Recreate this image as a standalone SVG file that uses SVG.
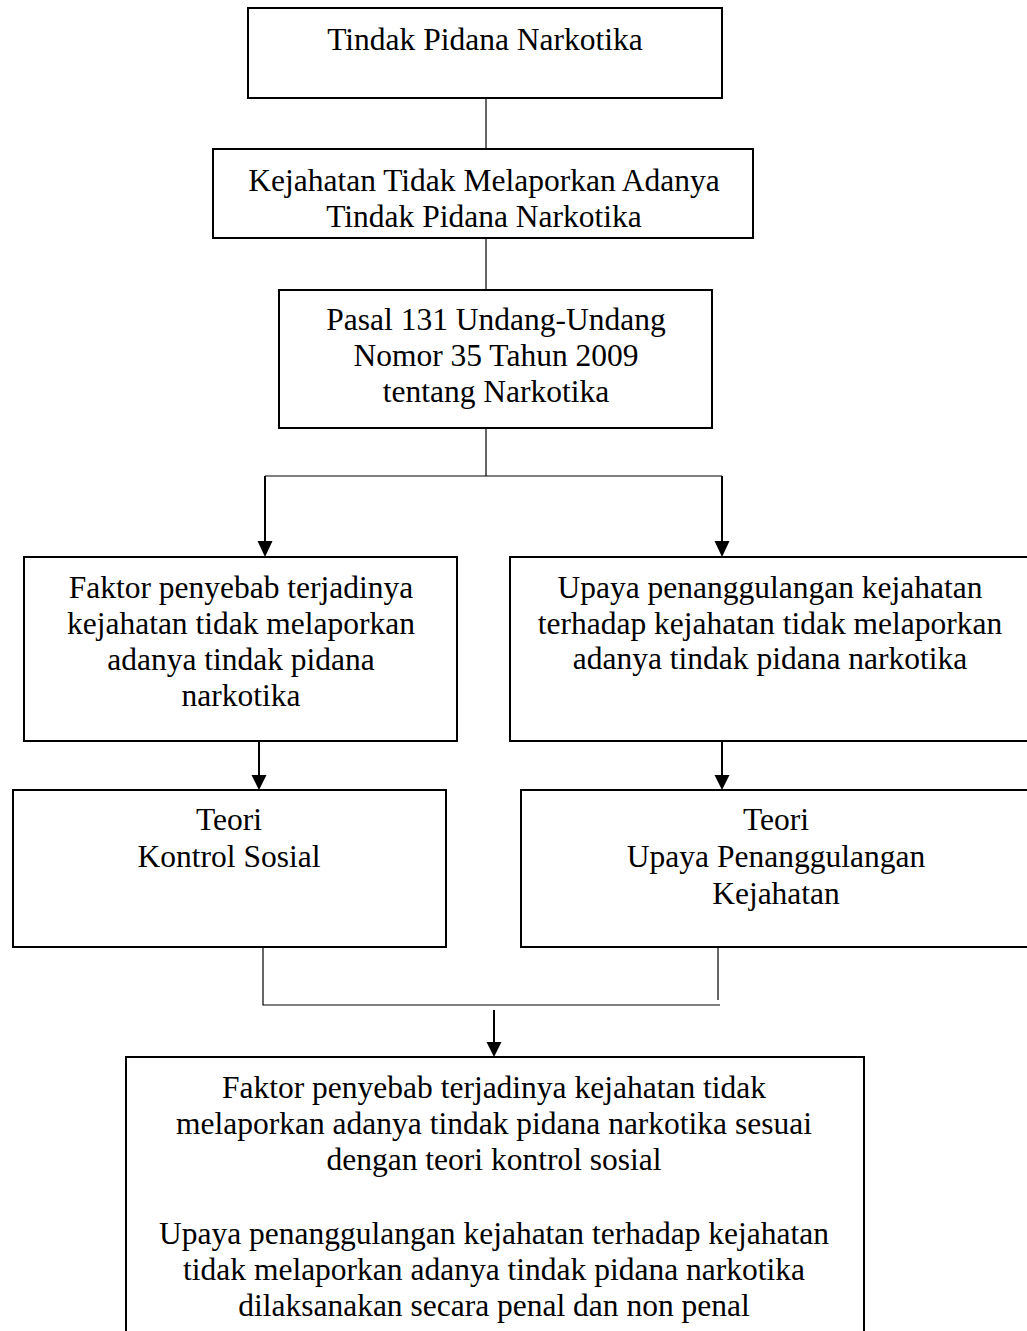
<svg xmlns="http://www.w3.org/2000/svg" width="1027" height="1331" viewBox="0 0 1027 1331">
<style>
  .box { fill: #ffffff; stroke: #000000; stroke-width: 2; }
  .t { font-family: "Liberation Serif", "Times New Roman", serif; font-size: 31.5px; fill: #000000; text-anchor: middle; }
  .thin { fill: none; stroke: #000000; stroke-width: 1.2; }
  .arr { fill: none; stroke: #000000; stroke-width: 2; }
  .head { fill: #000000; stroke: none; }
</style>
<rect width="1027" height="1331" fill="#ffffff"/>
<g id="connectors">
  <line class="thin" x1="486" y1="98" x2="486" y2="149"/>
  <line class="thin" x1="486" y1="238" x2="486" y2="290"/>
  <polyline class="thin" points="486,428 486,476"/>
  <polyline class="thin" points="265,476 722,476"/>
  <line class="arr" x1="265" y1="476" x2="265" y2="544"/>
  <polygon class="head" points="257.5,541 272.5,541 265,557"/>
  <line class="arr" x1="722" y1="476" x2="722" y2="544"/>
  <polygon class="head" points="714.5,541 729.5,541 722,557"/>
  <line class="arr" x1="259" y1="741" x2="259" y2="777"/>
  <polygon class="head" points="251.5,775 266.5,775 259,790"/>
  <line class="arr" x1="722" y1="741" x2="722" y2="777"/>
  <polygon class="head" points="714.5,775 729.5,775 722,790"/>
  <polyline class="thin" points="263,948 263,1005 720,1005"/>
  <line class="thin" x1="718" y1="948" x2="718" y2="1000"/>
  <line class="arr" x1="494" y1="1010" x2="494" y2="1044"/>
  <polygon class="head" points="486.5,1042 501.5,1042 494,1057"/>
</g>
<g id="n1">
  <rect class="box" x="248" y="8" width="474" height="90"/>
  <text class="t" x="485" y="50">Tindak Pidana Narkotika</text>
</g>
<g id="n2">
  <rect class="box" x="213" y="149" width="540" height="89"/>
  <text class="t" x="484" y="191">Kejahatan Tidak Melaporkan Adanya</text>
  <text class="t" x="484" y="227">Tindak Pidana Narkotika</text>
</g>
<g id="n3">
  <rect class="box" x="279" y="290" width="433" height="138"/>
  <text class="t" x="496" y="330">Pasal 131 Undang-Undang</text>
  <text class="t" x="496" y="366">Nomor 35 Tahun 2009</text>
  <text class="t" x="496" y="402">tentang Narkotika</text>
</g>
<g id="n4">
  <rect class="box" x="24" y="557" width="433" height="184"/>
  <text class="t" x="241" y="598">Faktor penyebab terjadinya</text>
  <text class="t" x="241" y="634">kejahatan tidak melaporkan</text>
  <text class="t" x="241" y="670">adanya tindak pidana</text>
  <text class="t" x="241" y="706">narkotika</text>
</g>
<g id="n5">
  <rect class="box" x="510" y="557" width="530" height="184"/>
  <text class="t" x="770" y="598">Upaya penanggulangan kejahatan</text>
  <text class="t" x="770" y="634">terhadap kejahatan tidak melaporkan</text>
  <text class="t" x="770" y="669">adanya tindak pidana narkotika</text>
</g>
<g id="n6">
  <rect class="box" x="13" y="790" width="433" height="157"/>
  <text class="t" x="229" y="830">Teori</text>
  <text class="t" x="229" y="867">Kontrol Sosial</text>
</g>
<g id="n7">
  <rect class="box" x="521" y="790" width="520" height="157"/>
  <text class="t" x="776" y="830">Teori</text>
  <text class="t" x="776" y="867">Upaya Penanggulangan</text>
  <text class="t" x="776" y="904">Kejahatan</text>
</g>
<g id="n8">
  <rect class="box" x="126" y="1057" width="738" height="290"/>
  <text class="t" x="494" y="1098">Faktor penyebab terjadinya kejahatan tidak</text>
  <text class="t" x="494" y="1134">melaporkan adanya tindak pidana narkotika sesuai</text>
  <text class="t" x="494" y="1170">dengan teori kontrol sosial</text>
  <text class="t" x="494" y="1244">Upaya penanggulangan kejahatan terhadap kejahatan</text>
  <text class="t" x="494" y="1280">tidak melaporkan adanya tindak pidana narkotika</text>
  <text class="t" x="494" y="1316">dilaksanakan secara penal dan non penal</text>
</g>
</svg>
